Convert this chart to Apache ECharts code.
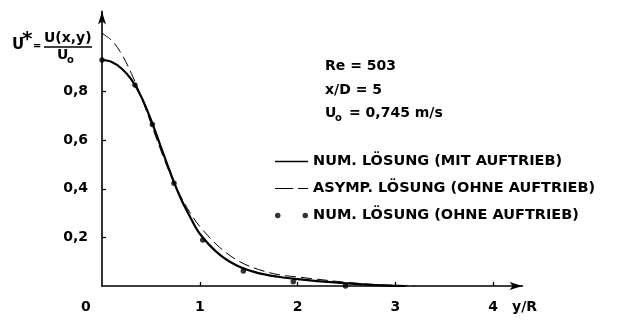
<!DOCTYPE html>
<html>
<head>
<meta charset="utf-8">
<script src="https://cdn.jsdelivr.net/npm/echarts@6/dist/echarts.min.js"></script>
<style>
  html, body { margin: 0; padding: 0; background: #fff; }
  #chart { width: 632px; height: 320px; }
</style>
</head>
<body>
<div id="chart"></div>
<script>
// Velocity profile U* = U(x,y)/Uo across the jet, plotted over y/R.
const FONT = "'DejaVu Sans', sans-serif";

// Numerical solution with buoyancy (solid line)
const numMitX = [0, 0.1, 0.2, 0.3, 0.4, 0.5, 0.6, 0.7, 0.8, 0.9, 1.0, 1.2, 1.4, 1.6, 1.8, 2.0, 2.2, 2.5, 2.8, 3.1];
const numMitY = [0.93, 0.922, 0.895, 0.85, 0.78, 0.685, 0.575, 0.465, 0.365, 0.285, 0.215, 0.13, 0.08, 0.053, 0.038, 0.028, 0.02, 0.011, 0.004, 0];

// Asymptotic solution without buoyancy (dashed line)
const asympX = [0, 0.1, 0.2, 0.3, 0.4, 0.5, 0.6, 0.7, 0.8, 0.9, 1.0, 1.2, 1.4, 1.6, 1.8, 2.0, 2.2, 2.5, 2.8, 3.2];
const asympY = [1.04, 1.01, 0.955, 0.875, 0.78, 0.67, 0.56, 0.458, 0.372, 0.302, 0.245, 0.16, 0.102, 0.068, 0.047, 0.037, 0.028, 0.015, 0.006, 0];

// Numerical solution without buoyancy (dots)
const numOhneX = [0, 0.337, 0.515, 0.736, 1.03, 1.445, 1.956, 2.49];
const numOhneY = [0.93, 0.827, 0.665, 0.423, 0.189, 0.062, 0.018, 0.0];

const xTickValues = [1, 2, 3, 4];
const yTickValues = [0.2, 0.4, 0.6, 0.8];

const seriesNames = [
  'NUM. LÖSUNG (MIT AUFTRIEB)',
  'ASYMP. LÖSUNG (OHNE AUFTRIEB)',
  'NUM. LÖSUNG (OHNE AUFTRIEB)'
];

const zip = (xs, ys) => xs.map((x, i) => [x, ys[i]]);
const comma = v => String(v).replace('.', ',');

const txt = (text, x, y, extra) => Object.assign({
  type: 'text', x: x, y: y,
  style: Object.assign({ text: text, fill: '#000', font: 'bold 14px ' + FONT, textVerticalAlign: 'middle' }, extra || {})
});

const chart = echarts.init(document.getElementById('chart'), null, { renderer: 'canvas' });

chart.setOption({
  animation: false,
  backgroundColor: '#fff',
  grid: { left: 102, top: 11.4, right: 109.5, bottom: 34, containLabel: false },
  xAxis: {
    type: 'value', min: 0, max: 4.3, interval: 1,
    axisLine: { show: true, symbol: ['none', 'arrow'], symbolSize: [6, 13],
      lineStyle: { color: '#000', width: 1.6 } },
    axisTick: { show: true, inside: true, length: 4, customValues: xTickValues, lineStyle: { color: '#000', width: 1.3 } },
    axisLabel: { show: true, customValues: xTickValues, margin: 14, color: '#000',
      fontFamily: FONT, fontSize: 14, fontWeight: 'bold', formatter: comma },
    splitLine: { show: false }
  },
  yAxis: {
    type: 'value', min: 0, max: 1.13, interval: 0.2,
    axisLine: { show: true, symbol: ['none', 'arrow'], symbolSize: [6, 13],
      lineStyle: { color: '#000', width: 1.6 } },
    axisTick: { show: true, inside: true, length: 4, customValues: yTickValues, lineStyle: { color: '#000', width: 1.3 } },
    axisLabel: { show: true, customValues: yTickValues, margin: 14, color: '#000',
      fontFamily: FONT, fontSize: 14, fontWeight: 'bold', formatter: v => comma(v.toFixed(1)) },
    splitLine: { show: false }
  },
  legend: {
    orient: 'vertical', left: 270, top: 149, itemWidth: 33, itemHeight: 14, itemGap: 12,
    textStyle: { color: '#000', fontFamily: FONT, fontSize: 14.5, fontWeight: 'bold' },
    data: [
      { name: seriesNames[0], icon: 'path://M0,0H40V2H0Z' },
      { name: seriesNames[1], icon: 'path://M0,0H22V1.2H0Z M28,0H40V1.2H28Z' },
      { name: seriesNames[2], icon: 'path://M0,2.5A2.5,2.5,0,1,1,5,2.5A2.5,2.5,0,1,1,0,2.5Z M25,2.5A2.5,2.5,0,1,1,30,2.5A2.5,2.5,0,1,1,25,2.5Z' }
    ]
  },
  series: [
    {
      name: seriesNames[0], type: 'line', data: zip(numMitX, numMitY), smooth: 0.35,
      showSymbol: false, symbol: 'none', color: '#000',
      lineStyle: { color: '#000', width: 2.2 }, z: 3
    },
    {
      name: seriesNames[1], type: 'line', data: zip(asympX, asympY), smooth: 0.35,
      showSymbol: false, symbol: 'none', color: '#000',
      lineStyle: { color: '#000', width: 1, type: [11, 5] }, z: 2
    },
    {
      name: seriesNames[2], type: 'scatter', data: zip(numOhneX, numOhneY),
      symbol: 'circle', symbolSize: 5.5, itemStyle: { color: '#000' }, color: '#000', z: 4
    }
  ],
  graphic: [
    // Ordinate title: U* = U(x,y) / Uo
    txt('U', 12, 45, { font: 'bold 15px ' + FONT }),
    txt('*', 22, 40, { font: 'bold 20px ' + FONT }),
    txt('=', 33, 46, { font: 'bold 10px ' + FONT }),
    txt('U(x,y)', 44, 38),
    { type: 'line', shape: { x1: 44, y1: 47, x2: 92, y2: 47 }, style: { stroke: '#000', lineWidth: 1.6 } },
    txt('U', 57, 55),
    txt('o', 67, 60, { font: 'bold 10px ' + FONT }),
    // Origin and abscissa title
    txt('0', 81, 307),
    txt('y/R', 512, 307),
    // Parameters
    txt('Re = 503', 325, 66),
    txt('x/D = 5', 325, 90),
    txt('U', 325, 113),
    txt('o', 335, 118, { font: 'bold 10px ' + FONT }),
    txt('= 0,745 m/s', 349, 113)
  ]
});
</script>
</body>
</html>
